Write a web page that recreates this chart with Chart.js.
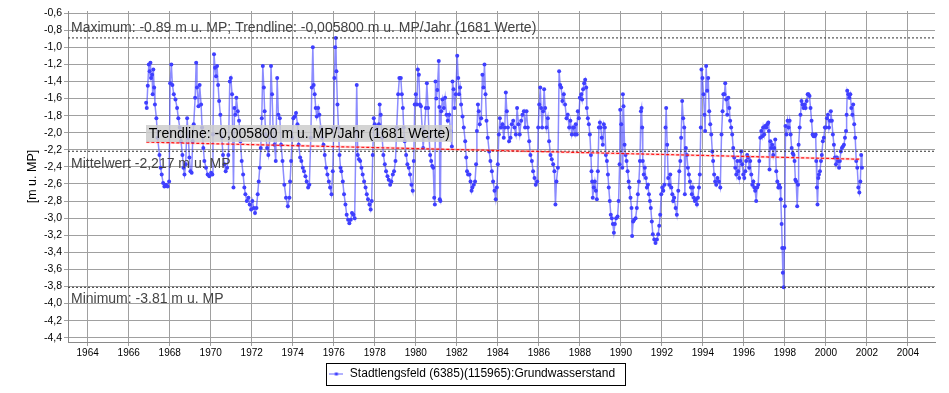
<!DOCTYPE html>
<html><head><meta charset="utf-8">
<script src="https://cdn.jsdelivr.net/npm/chart.js@4.4.1/dist/chart.umd.min.js"></script>
<style>html,body{margin:0;padding:0;background:#fff}#wrap{width:949px;height:393px;position:relative}</style>
</head><body><div id="wrap"><canvas id="c" width="949" height="393"></canvas></div>
<script>
// ---- data ----
const seriesName = "Stadtlengsfeld (6385)(115965):Grundwasserstand";
const years = [
1966.85,1966.88,1966.93,1966.98,1967.02,1967.06,1967.09,1967.14,1967.17,1967.20,1967.24,1967.28,1967.35,1967.41,1967.50,1967.56,1967.61,1967.68,1967.74,1967.82,1967.90,1967.97,
1968.02,1968.08,1968.13,1968.20,1968.28,1968.36,1968.42,1968.49,1968.55,1968.62,1968.67,1968.72,1968.78,1968.85,1968.91,1968.96,
1969.01,1969.07,1969.12,1969.17,1969.24,1969.29,1969.33,1969.40,1969.46,1969.53,1969.58,1969.64,1969.69,1969.77,1969.85,1969.93,
1970.02,1970.08,1970.11,1970.16,1970.21,1970.26,1970.31,1970.36,1970.41,1970.47,1970.54,1970.60,1970.67,1970.73,1970.80,1970.86,1970.93,1970.98,
1971.04,1971.11,1971.16,1971.20,1971.25,1971.32,1971.38,1971.45,1971.51,1971.58,1971.64,1971.69,1971.76,1971.84,1971.90,1971.97,
1972.03,1972.10,1972.16,1972.23,1972.29,1972.34,1972.39,1972.44,1972.49,1972.54,1972.59,1972.63,1972.68,1972.75,1972.81,1972.88,1972.94,1972.99,
1973.04,1973.11,1973.17,1973.24,1973.30,1973.37,1973.43,1973.50,1973.59,1973.67,1973.76,1973.84,1973.87,1973.92,1973.97,
1974.03,1974.10,1974.16,1974.23,1974.29,1974.36,1974.42,1974.49,1974.55,1974.62,1974.68,1974.75,1974.81,1974.88,1974.93,1974.98,
1975.02,1975.07,1975.12,1975.17,1975.24,1975.30,1975.37,1975.43,1975.50,1975.56,1975.63,1975.69,1975.76,1975.82,1975.89,1975.95,
1976.00,1976.03,1976.07,1976.10,1976.13,1976.18,1976.23,1976.28,1976.33,1976.37,1976.44,1976.50,1976.57,1976.63,1976.70,1976.76,1976.83,1976.89,1976.96,
1977.02,1977.12,1977.17,1977.23,1977.29,1977.35,1977.41,1977.48,1977.55,1977.61,1977.67,1977.74,1977.80,1977.85,1977.90,1977.95,
1978.00,1978.07,1978.13,1978.20,1978.24,1978.29,1978.36,1978.42,1978.49,1978.55,1978.62,1978.68,1978.75,1978.81,1978.88,1978.94,
1979.01,1979.07,1979.14,1979.20,1979.27,1979.32,1979.37,1979.41,1979.46,1979.53,1979.59,1979.66,1979.72,1979.79,1979.85,1979.90,1979.95,
1980.00,1980.05,1980.10,1980.15,1980.20,1980.25,1980.31,1980.36,1980.42,1980.49,1980.54,1980.60,1980.65,1980.70,1980.75,1980.80,1980.85,1980.90,1980.93,1980.96,
1981.00,1981.05,1981.12,1981.15,1981.17,1981.20,1981.24,1981.30,1981.37,1981.43,1981.50,1981.56,1981.63,1981.69,1981.76,1981.79,1981.84,1981.89,1981.95,
1982.02,1982.07,1982.11,1982.16,1982.21,1982.28,1982.34,1982.41,1982.46,1982.50,1982.55,1982.62,1982.67,1982.72,1982.76,1982.83,1982.89,1982.94,1982.98,
1983.03,1983.07,1983.12,1983.19,1983.25,1983.30,1983.35,1983.40,1983.45,1983.51,1983.58,1983.64,1983.71,1983.77,1983.84,1983.90,1983.95,
1984.00,1984.05,1984.10,1984.16,1984.23,1984.29,1984.34,1984.39,1984.44,1984.49,1984.55,1984.62,1984.68,1984.75,1984.81,1984.88,1984.94,
1985.01,1985.07,1985.14,1985.20,1985.27,1985.33,1985.40,1985.46,1985.53,1985.59,1985.66,1985.72,1985.79,1985.85,1985.92,1985.97,
1986.02,1986.07,1986.11,1986.16,1986.21,1986.26,1986.31,1986.37,1986.44,1986.50,1986.57,1986.63,1986.70,1986.76,1986.81,1986.86,1986.93,1986.99,
1987.04,1987.09,1987.15,1987.22,1987.28,1987.35,1987.41,1987.48,1987.54,1987.61,1987.67,1987.71,1987.76,1987.80,1987.85,1987.90,1987.95,
1988.00,1988.07,1988.11,1988.16,1988.21,1988.26,1988.31,1988.34,1988.39,1988.44,1988.49,1988.54,1988.57,1988.60,1988.63,1988.68,1988.73,1988.78,1988.83,1988.88,1988.93,1988.98,
1989.02,1989.07,1989.12,1989.17,1989.22,1989.27,1989.32,1989.37,1989.41,1989.46,1989.51,1989.56,1989.61,1989.66,1989.71,1989.77,1989.84,1989.89,1989.94,1989.97,
1990.02,1990.07,1990.10,1990.13,1990.18,1990.23,1990.28,1990.33,1990.38,1990.42,1990.47,1990.52,1990.55,1990.60,1990.65,1990.72,1990.78,1990.83,1990.88,1990.93,1990.98,
1991.01,1991.04,1991.07,1991.12,1991.17,1991.22,1991.27,1991.32,1991.37,1991.42,1991.46,1991.51,1991.56,1991.63,1991.69,1991.76,1991.82,1991.87,1991.92,1991.97,
1992.02,1992.07,1992.13,1992.18,1992.21,1992.26,1992.31,1992.36,1992.41,1992.46,1992.51,1992.55,1992.60,1992.67,1992.73,1992.80,1992.85,1992.90,1992.94,1992.99,
1993.04,1993.09,1993.12,1993.17,1993.22,1993.27,1993.32,1993.37,1993.42,1993.46,1993.51,1993.56,1993.61,1993.66,1993.71,1993.76,1993.81,1993.85,1993.90,1993.93,1993.98,
1994.03,1994.08,1994.11,1994.16,1994.21,1994.26,1994.31,1994.36,1994.41,1994.46,1994.50,1994.55,1994.60,1994.65,1994.71,1994.78,1994.85,1994.91,1994.96,
1995.00,1995.05,1995.09,1995.14,1995.19,1995.24,1995.29,1995.33,1995.38,1995.43,1995.48,1995.53,1995.58,1995.63,1995.68,1995.72,1995.77,1995.82,1995.87,1995.92,1995.97,
1996.02,1996.07,1996.11,1996.16,1996.21,1996.26,1996.31,1996.36,1996.41,1996.46,1996.51,1996.55,1996.60,1996.65,1996.70,1996.75,1996.80,1996.85,1996.90,1996.94,1996.99,
1997.04,1997.09,1997.14,1997.19,1997.22,1997.25,1997.29,1997.33,1997.38,1997.43,1997.48,1997.53,1997.58,1997.63,1997.68,1997.72,1997.77,1997.80,1997.84,1997.87,1997.90,1997.94,1997.97,
1998.00,1998.03,1998.08,1998.13,1998.18,1998.23,1998.28,1998.33,1998.38,1998.42,1998.47,1998.51,1998.55,1998.60,1998.64,1998.67,1998.72,1998.76,1998.81,1998.86,1998.91,1998.96,
1999.01,1999.06,1999.11,1999.15,1999.20,1999.25,1999.30,1999.35,1999.40,1999.45,1999.50,1999.53,1999.56,1999.59,1999.63,1999.66,1999.71,1999.76,1999.80,1999.85,1999.90,1999.95,
2000.00,2000.05,2000.10,2000.15,2000.20,2000.24,2000.29,2000.34,2000.39,2000.44,2000.49,2000.54,2000.59,2000.64,2000.68,2000.73,2000.78,2000.83,2000.88,2000.93,2000.98,
2001.01,2001.04,2001.09,2001.14,2001.19,2001.24,2001.29,2001.33,2001.38,2001.43,2001.48,2001.53,2001.58,2001.63,2001.68,2001.72,2001.76
];
const levels = [
-1.65,-1.71,-1.45,-1.20,-1.28,-1.18,-1.36,-1.32,-1.55,-1.26,-1.47,-1.67,-1.83,-2.06,-2.26,-2.41,-2.49,-2.59,-2.63,-2.61,-2.63,-2.57,
-1.42,-1.20,-1.44,-1.55,-1.61,-1.71,-1.83,-1.94,-2.10,-2.26,-2.41,-2.49,-2.37,-1.83,-2.06,-2.29,
-2.45,-2.47,-2.10,-1.90,-1.59,-1.18,-1.47,-1.69,-1.44,-1.67,-1.94,-2.18,-2.33,-2.41,-2.49,-2.51,
-2.47,-2.49,-2.02,-1.08,-1.24,-1.34,-1.22,-1.44,-1.63,-1.79,-2.06,-2.26,-2.37,-2.45,-2.41,-2.26,-1.40,-1.36,
-1.55,-2.64,-1.71,-1.79,-1.59,-1.75,-1.86,-2.10,-2.33,-2.49,-2.64,-2.72,-2.80,-2.76,-2.84,-2.90,
-2.80,-2.88,-2.94,-2.88,-2.72,-2.57,-2.41,-2.18,-1.83,-1.22,-1.47,-1.75,-2.02,-2.18,-2.26,-2.06,-1.22,-1.55,
-1.94,-2.14,-2.33,-1.36,-1.79,-1.83,-2.14,-2.33,-2.61,-2.76,-2.86,-2.76,-2.57,-2.33,-2.06,
-1.83,-1.81,-1.77,-1.90,-2.14,-2.29,-2.33,-2.41,-2.45,-2.51,-2.57,-2.64,-2.61,-2.06,-1.47,-1.00,
-1.44,-1.55,-1.71,-1.81,-1.71,-1.79,-1.94,-2.06,-2.14,-2.26,-2.41,-2.49,-2.57,-2.64,-2.72,-2.45,
-1.94,-1.36,-1.00,-0.89,-1.28,-1.67,-1.94,-2.26,-2.41,-2.45,-2.57,-2.72,-2.84,-2.96,-3.02,-3.06,-3.02,-2.94,-2.96,
-3.00,-1.44,-2.26,-2.31,-2.33,-2.41,-2.49,-2.57,-2.64,-2.72,-2.78,-2.84,-2.90,-2.80,-2.26,-1.83,
-1.90,-1.94,-2.02,-1.90,-1.67,-1.79,-2.06,-2.26,-2.37,-2.45,-2.51,-2.55,-2.61,-2.57,-2.49,-2.45,
-2.33,-1.94,-1.55,-1.36,-1.36,-1.55,-1.71,-1.94,-2.10,-2.26,-2.37,-2.41,-2.49,-2.61,-2.68,-2.33,-1.67,
-1.55,-1.67,-1.26,-1.32,-1.67,-1.69,-1.94,-2.18,-1.98,-1.71,-1.42,-1.71,-2.06,-2.26,-2.33,-2.39,-2.41,-2.76,-2.84,-1.40,
-1.60,-1.50,-1.16,-1.70,-2.78,-2.80,-1.75,-1.61,-1.71,-1.59,-1.79,-1.86,-1.79,-1.98,-2.16,-1.40,-1.49,-1.71,-1.55,
-1.10,-1.36,-1.55,-1.47,-1.67,-1.81,-1.94,-2.10,-2.29,-2.45,-2.49,-2.49,-2.57,-2.68,-2.64,-2.61,-2.57,-2.37,-1.98,
-1.67,-1.75,-1.90,-1.83,-1.32,-1.47,-1.20,-1.55,-1.86,-2.06,-2.22,-2.33,-2.45,-2.57,-2.68,-2.78,-2.64,
-2.37,-2.02,-1.83,-1.94,-1.90,-2.06,-1.94,-1.53,-1.75,-1.94,-2.10,-2.06,-1.90,-1.86,-1.94,-2.02,-1.71,
-1.90,-2.02,-1.86,-1.79,-1.75,-1.94,-1.75,-1.94,-2.10,-2.26,-2.33,-2.45,-2.53,-2.61,-2.57,-1.94,
-1.67,-1.47,-1.71,-1.94,-1.75,-1.49,-1.71,-1.94,-1.83,-2.10,-2.26,-2.31,-2.37,-2.45,-2.84,-2.57,-2.41,-1.28,
-1.44,-1.47,-1.63,-1.55,-1.67,-1.83,-1.79,-1.94,-1.86,-2.02,-1.94,-1.94,-2.02,-1.90,-2.02,-1.75,-1.83,
-1.59,-1.55,-1.61,-1.49,-1.42,-1.38,-1.47,-1.71,-1.83,-1.90,-2.02,-2.26,-2.45,-2.57,-2.76,-2.64,-2.57,-2.68,-2.78,-2.45,-1.94,-1.88,
-1.94,-2.06,-2.14,-1.90,-1.94,-2.26,-2.33,-2.49,-2.64,-2.80,-2.96,-3.00,-3.07,-3.17,-3.07,-3.00,-2.98,-2.80,-2.37,-1.73,
-1.90,-2.41,-1.55,-1.69,-2.14,-2.26,-2.33,-2.45,-2.57,-2.64,-2.76,-2.88,-3.21,-3.04,-3.02,-3.00,-2.88,-2.72,-2.57,-2.33,-1.75,
-1.71,-1.94,-2.33,-2.49,-2.41,-2.53,-2.64,-2.61,-2.72,-2.80,-2.88,-3.04,-3.19,-3.25,-3.29,-3.25,-3.19,-3.09,-2.96,-2.72,
-2.64,-2.68,-2.61,-1.94,-1.71,-2.14,-2.53,-2.61,-2.49,-2.64,-2.72,-2.80,-2.76,-2.88,-2.96,-2.68,-2.45,-2.33,-2.06,-1.63,
-1.83,-1.94,-2.72,-2.18,-2.26,-2.41,-2.49,-2.57,-2.64,-2.72,-2.64,-2.76,-2.80,-2.78,-2.84,-2.76,-2.64,-2.49,-1.94,-1.26,-1.36,
-1.55,-1.79,-1.98,-1.22,-1.51,-1.36,-1.75,-1.90,-2.02,-2.22,-2.33,-2.49,-2.57,-2.61,-2.53,-2.57,-2.64,-2.02,-1.75,
-1.55,-1.55,-1.42,-1.61,-1.79,-1.59,-1.71,-1.86,-1.94,-2.02,-2.18,-2.29,-2.41,-2.49,-2.33,-2.45,-2.53,-2.33,-2.22,-2.37,-2.49,
-2.53,-2.45,-2.33,-2.26,-2.29,-2.41,-2.33,-2.49,-2.61,-2.57,-2.64,-2.68,-2.80,-2.64,-2.61,-2.33,-2.06,-1.98,-2.04,-1.94,-2.02,
-1.92,-1.94,-1.90,-1.88,-1.98,-2.43,-2.10,-2.18,-2.14,-2.26,-2.18,-2.08,-2.45,-2.57,-2.64,-2.61,-2.64,-2.78,-3.07,-3.35,-3.64,-3.81,-3.35,
-2.86,-1.92,-2.02,-1.86,-1.94,-1.86,-2.02,-2.18,-2.24,-2.26,-2.33,-2.55,-2.57,-2.86,-2.61,-2.14,-1.94,-1.79,-1.63,-1.67,-1.71,-1.67,
-1.71,-1.63,-1.55,-1.55,-1.57,-1.71,-1.86,-2.02,-2.04,-2.04,-2.02,-2.33,-2.64,-2.84,-2.53,-2.49,-2.45,-2.33,-2.26,-2.10,-2.06,-1.94,
-1.94,-1.83,-1.79,-1.94,-1.86,-1.75,-1.86,-2.02,-2.14,-2.29,-2.37,-2.29,-2.33,-2.41,-2.33,-2.22,-2.18,-2.16,-2.14,-2.06,-1.98,
-1.79,-1.51,-1.55,-1.59,-1.55,-1.71,-1.79,-1.67,-1.90,-2.06,-2.33,-2.41,-2.64,-2.70,-2.57,-2.26,-2.41
];
const statNames  = ["Maximum", "Mittelwert", "Minimum"];
const statValues = [-0.89, -2.217, -3.81];
const trendYears  = [1966.86, 2001.66];
const trendValues = [-2.11, -2.31];
const tickYears  = [1964,1966,1968,1970,1972,1974,1976,1978,1980,1982,1984,1986,1988,1990,1992,1994,1996,1998,2000,2002,2004];
const tickLevels = [-0.6,-0.8,-1.0,-1.2,-1.4,-1.6,-1.8,-2.0,-2.2,-2.4,-2.6,-2.8,-3.0,-3.2,-3.4,-3.6,-3.8,-4.0,-4.2,-4.4];
const maxLabel   = "Maximum: -0.89 m u. MP; Trendline: -0,005800 m u. MP/Jahr (1681 Werte)";
const meanLabel  = "Mittelwert -2,217 m u. MP";
const minLabel   = "Minimum: -3.81 m u. MP";
const trendLabel = "Trendline: -0,005800 m u. MP/Jahr (1681 Werte)";
const yTitle = "[m u. MP]";

// ---- axis extents ----
const X_MIN = 1963.04, X_MAX = 2005.32, Y_MIN = -4.45, Y_MAX = -0.575;
const FONT = '"Liberation Sans", Arial, sans-serif';
Chart.defaults.font.family = FONT;

const seriesData = years.map((v, i) => ({x: v, y: levels[i]}));
const statSets = statValues.map((v, i) => ({
  label: statNames[i],
  data: [{x: X_MIN, y: v}, {x: X_MAX, y: v}],
  borderColor: '#333', borderWidth: 1, borderDash: [2, 2],
  pointRadius: 0, order: 2
}));
const trendData = trendYears.map((v, i) => ({x: v, y: trendValues[i]}));

// legend icon: line with a small marker
const icon = document.createElement('canvas');
icon.width = 14; icon.height = 7;
(function(){
  const g = icon.getContext('2d');
  g.strokeStyle = 'rgba(64,64,255,0.8)'; g.lineWidth = 1;
  g.beginPath(); g.moveTo(0, 3.5); g.lineTo(14, 3.5); g.stroke();
  g.fillStyle = '#3f3fff'; g.fillRect(5.5, 2, 3, 3);
})();

const annot = {
  id: 'annot',
  afterDatasetsDraw(chart) {
    const {ctx, chartArea, scales: {x, y}} = chart;
    ctx.save();
    ctx.font = '14px ' + FONT;
    ctx.textAlign = 'left';
    ctx.textBaseline = 'alphabetic';
    ctx.fillStyle = '#444';
    const lx = chartArea.left + 3;
    ctx.fillText(maxLabel, lx, y.getPixelForValue(statValues[0]) - 6);
    ctx.fillText(meanLabel, lx, y.getPixelForValue(statValues[1]) + 16.5);
    ctx.fillText(minLabel, lx, y.getPixelForValue(statValues[2]) + 16);
    const tx = x.getPixelForValue(trendYears[0]);
    const ty = y.getPixelForValue(trendValues[0]);
    const w = ctx.measureText(trendLabel).width;
    ctx.fillStyle = 'rgba(205,205,205,0.85)';
    ctx.fillRect(Math.round(tx), Math.round(ty - 17.5), Math.round(w + 5), 17);
    ctx.fillStyle = '#000';
    ctx.fillText(trendLabel, tx + 2.5, ty - 4);
    ctx.restore();
  },
  afterDraw(chart) {
    const hb = chart.legend && chart.legend.legendHitBoxes && chart.legend.legendHitBoxes[0];
    if (!hb) return;
    const ctx = chart.ctx;
    ctx.save();
    ctx.strokeStyle = '#000'; ctx.lineWidth = 1;
    const l = Math.round(hb.left - 3) + 0.5, t = Math.round(hb.top - 5) + 0.5;
    const r = Math.round(hb.left + hb.width + 10) + 0.5, b = Math.round(hb.top + hb.height + 5) + 0.5;
    ctx.strokeRect(l, t, r - l, b - t);
    ctx.restore();
  }
};

new Chart(document.getElementById('c'), {
  type: 'line',
  data: {
    datasets: [
      {
        label: 'Trend', data: trendData, order: 0,
        borderColor: 'rgba(255,0,0,0.9)', borderWidth: 1.2, borderDash: [3, 2],
        pointRadius: 0
      },
      {
        label: 'TrendHalo', data: trendData, order: 1,
        borderColor: 'rgba(255,140,140,0.4)', borderWidth: 2.5,
        pointRadius: 0
      },
      ...statSets,
      {
        label: seriesName, data: seriesData, order: 5,
        borderColor: 'rgba(64,64,255,0.6)', borderWidth: 1.5,
        pointRadius: 2, pointBackgroundColor: '#3f3fff', pointBorderWidth: 0,
        pointHoverRadius: 0, tension: 0
      }
    ]
  },
  options: {
    responsive: false, animation: false, devicePixelRatio: 1,
    events: [],
    layout: {padding: {left: 9, right: 14, top: 11, bottom: 3}},
    scales: {
      x: {
        type: 'linear', min: X_MIN, max: X_MAX,
        afterBuildTicks: s => { s.ticks = tickYears.map(v => ({value: v})); },
        afterFit: s => { s.height = 20; },
        ticks: {callback: v => String(v), color: '#000', font: {size: 10}, padding: 1, maxRotation: 0, autoSkip: false},
        grid: {color: '#a0a0a0', lineWidth: 1, tickLength: 4, tickColor: '#a0a0a0'},
        border: {display: true, color: '#8a8a8a', width: 1}
      },
      y: {
        type: 'linear', min: Y_MIN, max: Y_MAX,
        afterBuildTicks: s => { s.ticks = tickLevels.map(v => ({value: v})); },
        afterFit: s => { s.width = 59; },
        ticks: {callback: v => v.toFixed(1).replace('.', ','), color: '#000', font: {size: 10.5}, padding: 2, autoSkip: false},
        grid: {color: '#a0a0a0', lineWidth: 1, tickLength: 4, tickColor: '#a0a0a0'},
        border: {display: true, color: '#8a8a8a', width: 1},
        title: {display: true, text: yTitle, color: '#000', font: {size: 12.5}, padding: {top: 16.5, bottom: 0}}
      }
    },
    plugins: {
      legend: {
        position: 'bottom',
        labels: {
          usePointStyle: true, pointStyleWidth: 15, padding: 6, color: '#000',
          font: {size: 12},
          generateLabels: () => [{text: seriesName, pointStyle: icon, fillStyle: '#3f3fff', strokeStyle: '#3f3fff', lineWidth: 0, hidden: false, datasetIndex: 4}]
        }
      },
      tooltip: {enabled: false}
    }
  },
  plugins: [annot]
});
</script>
</body></html>
